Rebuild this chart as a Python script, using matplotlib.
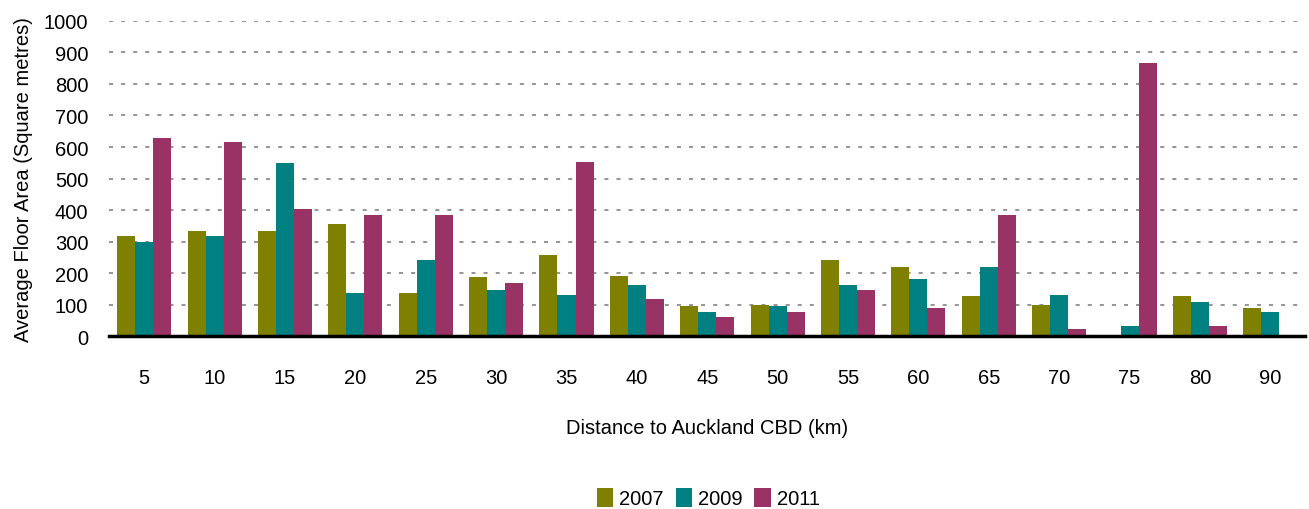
import matplotlib
matplotlib.use("Agg")
import matplotlib.pyplot as plt
import numpy as np

distances = ["5", "10", "15", "20", "25", "30", "35", "40", "45", "50", "55", "60", "65", "70", "75", "80", "90"]
area_2007 = [319, 332, 332, 357, 138, 186, 256, 192, 94, 100, 243, 218, 126, 100, 0, 126, 88]
area_2009 = [300, 319, 548, 138, 243, 145, 132, 161, 75, 94, 161, 180, 218, 132, 31, 107, 75]
area_2011 = [630, 617, 402, 383, 383, 167, 554, 119, 62, 75, 145, 88, 383, 24, 868, 31, 0]
years = ["2007", "2009", "2011"]
colors = ["#808000", "#008080", "#993366"]

plt.rcParams["font.family"] = ["Liberation Sans", "DejaVu Sans"]

fig = plt.figure(figsize=(13.09, 5.10), dpi=100)
ax = fig.add_axes([0.0833, 0.339, 0.914, 0.618])

x = np.arange(len(distances))
w = 0.256
for i, (vals, c, lab) in enumerate(zip([area_2007, area_2009, area_2011], colors, years)):
    ax.bar(x + (i - 1) * w, vals, width=w, color=c, label=lab, zorder=3)

ax.set_xlim(-0.5, len(distances) - 0.5)
ax.set_ylim(0, 1000)
ax.set_yticks(range(0, 1001, 100))
ax.set_xticks(x)
ax.set_xticklabels(distances)
ax.tick_params(axis="both", length=0, labelsize=14.5)
ax.tick_params(axis="x", pad=23)
ax.tick_params(axis="y", pad=15)
ax.yaxis.grid(True, color="#969696", linestyle=(0, (2, 4)), linewidth=1.45, zorder=0)
for s in ["top", "right", "left"]:
    ax.spines[s].set_visible(False)
ax.spines["bottom"].set_linewidth(2.5)
ax.spines["bottom"].set_color("black")
ax.spines["bottom"].set_zorder(4)

ax.set_ylabel("Average Floor Area (Square metres)", fontsize=14.5, labelpad=8)
ax.set_xlabel("Distance to Auckland CBD (km)", fontsize=14.5, labelpad=22)

fig.legend(loc="center", bbox_to_anchor=(0.541, 0.022), ncol=3, frameon=False,
           fontsize=14.5, handlelength=0.8, handleheight=1.1, handletextpad=0.3,
           columnspacing=0.6)

fig.savefig("out.png", dpi=100)
